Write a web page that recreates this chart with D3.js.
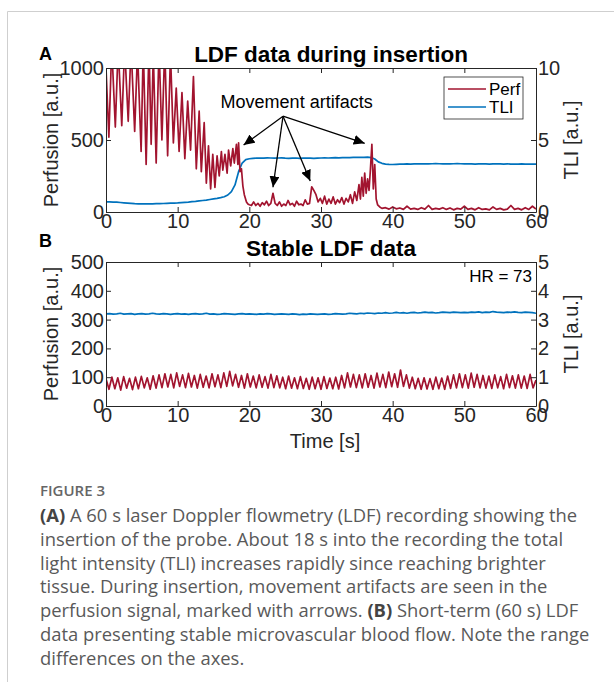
<!DOCTYPE html>
<html>
<head>
<meta charset="utf-8">
<script src="https://cdn.jsdelivr.net/npm/d3@7"></script>
<style>
	body { margin: 0; background: #fff; }
	#chart text { font-family: "Liberation Sans", Arial, Helvetica, sans-serif; }
	#chart text.cap { font-family: "Open Sans", "Noto Sans", sans-serif; }
</style>
</head>
<body>
<div id="chart"></div>
<script>
// ---- data ----
const timeTicks = [0, 10, 20, 30, 40, 50, 60];
const perfTicksA = [0, 500, 1000];
const tliTicksA = [0, 5, 10];
const perfTicksB = [0, 100, 200, 300, 400, 500];
const tliTicksB = [0, 1, 2, 3, 4, 5];
const seriesNames = ['Perf', 'TLI'];

// panel A perfusion, [time s, perfusion a.u.]
const perfA = [
	[0.0,1000],[0.4,520],[0.8,1150],[1.3,590],[1.7,1150],[2.2,600],[2.6,1150],[3.1,630],[3.5,1150],[4.0,560],
	[4.4,1120],[4.9,420],[5.2,1150],[5.6,330],[6.0,1150],[6.3,470],[6.6,1100],[7.0,340],[7.4,1150],[7.8,500],
	[8.2,1150],[8.6,390],[9.0,1100],[9.4,480],[9.8,860],[10.2,420],[10.6,830],[11.0,370],[11.4,770],[11.8,430],
	[12.2,940],[12.6,300],[13.0,700],[13.3,280],[13.7,620],[14.0,200],[14.3,460],[14.6,160],[14.9,400],[15.2,170],
	[15.5,390],[15.8,250],[16.1,420],[16.3,290],[16.6,400],[16.9,270],[17.1,430],[17.4,320],[17.7,440],[17.9,340],
	[18.2,470],[18.4,330],[18.5,480],[18.7,280],[18.9,300],[19.1,180],[19.3,120],[19.6,70],[19.8,55],
	[20.0,50],[20.3,45],[20.6,70],[20.9,45],[21.2,60],[21.5,40],[21.8,65],[22.1,50],[22.4,75],[22.7,45],
	[23.0,60],[23.3,130],[23.6,60],[23.9,45],[24.2,70],[24.5,40],[24.8,55],[25.1,45],[25.4,80],[25.7,50],
	[26.0,60],[26.3,40],[26.6,75],[26.9,50],[27.2,55],[27.5,45],[27.8,85],[28.1,55],[28.4,60],[28.7,175],
	[29.0,150],[29.3,120],[29.6,70],[29.9,95],[30.2,60],[30.5,110],[30.8,55],[31.1,90],[31.4,60],[31.7,105],
	[32.0,55],[32.3,85],[32.6,65],[32.9,100],[33.2,55],[33.5,95],[33.8,70],[34.1,120],[34.4,60],[34.7,140],
	[35.0,80],[35.3,190],[35.5,90],[35.7,240],[35.9,110],[36.1,270],[36.3,130],[36.5,230],[36.7,150],[36.9,300],
	[37.1,470],[37.3,160],[37.5,330],[37.7,90],[37.9,50],[38.2,35],[38.5,25],
	[39.0,30],[39.5,20],[40.0,35],[40.5,22],[41.0,28],[41.5,18],[42.0,40],[42.5,20],[43.0,25],[43.5,18],
	[44.0,30],[44.5,20],[45.0,45],[45.5,18],[46.0,25],[46.5,20],[47.0,30],[47.5,18],[48.0,28],[48.5,15],
	[49.0,25],[49.5,20],[50.0,40],[50.5,18],[51.0,25],[51.5,15],[52.0,30],[52.5,18],[53.0,22],[53.5,15],
	[54.0,35],[54.5,18],[55.0,25],[55.5,15],[56.0,20],[56.5,45],[57.0,18],[57.5,25],[58.0,15],[58.5,30],
	[59.0,18],[59.5,40],[60.0,20]
];

// panel A total light intensity, one value every 0.5 s
const tliAStep = 0.5;
const tliA = [
	0.70,0.70,0.69,0.68,0.66,0.64,0.62,0.60,0.58,0.57,0.56,0.56,0.57,0.57,0.58,0.58,0.59,0.60,0.61,0.62,
	0.63,0.65,0.67,0.69,0.72,0.74,0.77,0.80,0.83,0.87,0.91,0.95,1.00,1.06,1.18,1.42,1.88,2.80,3.40,3.64,
	3.70,3.73,3.74,3.75,3.74,3.76,3.75,3.74,3.75,3.76,3.74,3.73,3.74,3.75,3.73,3.74,3.75,3.74,3.73,3.74,
	3.75,3.76,3.75,3.76,3.77,3.76,3.78,3.77,3.78,3.79,3.80,3.79,3.80,3.81,3.78,3.68,3.48,3.38,3.33,3.31,
	3.30,3.31,3.32,3.33,3.34,3.33,3.34,3.35,3.34,3.35,3.34,3.35,3.36,3.35,3.34,3.35,3.34,3.35,3.36,3.35,
	3.34,3.35,3.34,3.33,3.34,3.35,3.34,3.33,3.34,3.35,3.34,3.33,3.34,3.33,3.32,3.33,3.34,3.33,3.32,3.33,
	3.33
];

// panel B perfusion, peak / trough every half beat (HR = 73)
const perfBStep = 60 / 146;
const perfB = [
	95,58, 100,60, 98,55, 102,62, 96,57, 100,60, 103,63, 98,58, 105,62, 108,64,
	112,66, 110,63, 115,68, 108,64, 113,66, 106,62, 110,65, 104,63, 112,67, 108,64,
	115,68, 120,70, 110,65, 106,62, 112,66, 104,63, 108,65, 102,62, 110,64, 105,63,
	100,60, 104,62, 98,60, 102,61, 96,58, 100,60, 98,58, 102,61, 97,60, 100,59,
	106,63, 115,66, 110,64, 108,63, 112,65, 106,62, 114,66, 110,64, 118,67, 112,65,
	125,68, 108,62, 100,60, 96,58, 98,59, 95,58, 100,60, 97,58, 104,61, 108,63,
	112,64, 108,62, 114,65, 110,63, 106,62, 104,61, 108,63, 102,60, 110,64, 105,62,
	108,62, 104,61, 110,63, 90
];

// panel B total light intensity, one value every 0.5 s
const tliBStep = 0.5;
const tliB = [
	3.20,3.21,3.19,3.20,3.22,3.19,3.20,3.21,3.18,3.20,3.21,3.19,3.20,3.22,3.20,3.19,3.21,3.20,3.18,3.20,
	3.21,3.19,3.20,3.18,3.20,3.21,3.19,3.20,3.22,3.19,3.20,3.18,3.19,3.21,3.20,3.19,3.18,3.20,3.21,3.19,
	3.20,3.19,3.18,3.20,3.19,3.21,3.20,3.18,3.19,3.20,3.19,3.18,3.20,3.19,3.17,3.19,3.18,3.20,3.19,3.18,
	3.19,3.20,3.18,3.19,3.21,3.20,3.19,3.20,3.22,3.21,3.20,3.22,3.21,3.23,3.22,3.21,3.23,3.22,3.24,3.22,
	3.23,3.25,3.23,3.24,3.22,3.24,3.25,3.23,3.24,3.26,3.24,3.25,3.23,3.24,3.26,3.25,3.24,3.26,3.25,3.24,
	3.25,3.24,3.26,3.25,3.27,3.24,3.26,3.25,3.28,3.26,3.25,3.24,3.26,3.25,3.27,3.25,3.24,3.26,3.25,3.24,
	3.22
];

// arrows in panel A: start and tips, [time s, perfusion a.u.]
const arrowStart = [24.7, 665];
const arrowTips = [[19.2, 465], [23.3, 172], [28.5, 215], [36.1, 477]];
const arrowLabelPos = [26.6, 720];
const heartRate = 73;

const captionLines = [
	[['(A)', true], [' A 60 s laser Doppler flowmetry (LDF) recording showing the', false]],
	[['insertion of the probe. About 18 s into the recording the total', false]],
	[['light intensity (TLI) increases rapidly since reaching brighter', false]],
	[['tissue. During insertion, movement artifacts are seen in the', false]],
	[['perfusion signal, marked with arrows. ', false], ['(B)', true], [' Short-term (60 s) LDF', false]],
	[['data presenting stable microvascular blood flow. Note the range', false]],
	[['differences on the axes.', false]]
];

// ---- drawing ----
const options = {
	w: 614,
	h: 682,
	left: 106,
	right: 536,
	titleX: 331,
	xLabelX: 325,
	tickLen: 5,
	axisColor: '#262626',
	perfColor: '#A2142F',
	tliColor: '#0072BD',
	tickFont: 20,
	labelFont: 20,
	titleFont: 22.5,
	lineW: 1.7
};

const svg = d3.select('#chart')
	.append('svg')
	.attr('width', options.w)
	.attr('height', options.h)
	.attr('viewBox', `0 0 ${options.w} ${options.h}`);

// frame
svg.append('path')
	.attr('d', `M7.5,${options.h} V11.5 H${options.w}`)
	.attr('fill', 'none')
	.attr('stroke', '#cfcfcf')
	.attr('stroke-width', 1);

const defs = svg.append('defs');
defs.append('marker')
	.attr('id', 'arrowhead')
	.attr('markerUnits', 'userSpaceOnUse')
	.attr('markerWidth', 12)
	.attr('markerHeight', 10)
	.attr('refX', 11)
	.attr('refY', 5)
	.attr('orient', 'auto')
	.append('path')
	.attr('d', 'M0,0 L11,5 L0,10 Z')
	.attr('fill', '#000');

function drawPanel(cfg) {
	const x = d3.scaleLinear().domain([0, 60]).range([options.left, options.right]);
	const yL = d3.scaleLinear().domain(cfg.perfDomain).range([cfg.bottom, cfg.top]);
	const yR = d3.scaleLinear().domain(cfg.tliDomain).range([cfg.bottom, cfg.top]);
	const g = svg.append('g');

	defs.append('clipPath')
		.attr('id', 'clip' + cfg.id)
		.append('rect')
		.attr('x', options.left)
		.attr('y', cfg.top)
		.attr('width', options.right - options.left)
		.attr('height', cfg.bottom - cfg.top);

	const styleAxis = sel => {
		sel.attr('font-size', options.tickFont)
			.attr('font-family', null);
		sel.select('.domain').attr('stroke', options.axisColor).attr('stroke-width', 1);
		sel.selectAll('.tick line').attr('stroke', options.axisColor).attr('stroke-width', 1);
		sel.selectAll('.tick text').attr('fill', options.axisColor);
	};

	// series: TLI on right axis, Perf on left axis
	const lines = g.append('g').attr('clip-path', `url(#clip${cfg.id})`);
	lines.append('path')
		.datum(cfg.tli)
		.attr('fill', 'none')
		.attr('stroke', options.tliColor)
		.attr('stroke-width', options.lineW)
		.attr('stroke-linejoin', 'round')
		.attr('d', d3.line().x((d, i) => x(i * cfg.tliStep)).y(d => yR(d)));
	lines.append('path')
		.datum(cfg.perf)
		.attr('fill', 'none')
		.attr('stroke', options.perfColor)
		.attr('stroke-width', options.lineW)
		.attr('stroke-linejoin', 'round')
		.attr('d', d3.line().x((d, i) => x(cfg.perfT(d, i))).y((d, i) => yL(cfg.perfV(d, i))));

	g.append('g')
		.attr('transform', `translate(0,${cfg.bottom})`)
		.call(d3.axisBottom(x).tickValues(timeTicks).tickSizeInner(-options.tickLen).tickSizeOuter(0).tickPadding(2))
		.call(styleAxis);
	g.append('g')
		.attr('transform', `translate(0,${cfg.top})`)
		.call(d3.axisTop(x).tickValues(timeTicks).tickSizeInner(-options.tickLen).tickSizeOuter(0).tickFormat(''))
		.call(styleAxis);
	g.append('g')
		.attr('transform', `translate(${options.left},0)`)
		.call(d3.axisLeft(yL).tickValues(cfg.perfTicks).tickSizeInner(-options.tickLen).tickSizeOuter(0).tickPadding(2).tickFormat(d3.format('d')))
		.call(styleAxis);
	g.append('g')
		.attr('transform', `translate(${options.right},0)`)
		.call(d3.axisRight(yR).tickValues(cfg.tliTicks).tickSizeInner(-options.tickLen).tickSizeOuter(0).tickPadding(2).tickFormat(d3.format('d')))
		.call(styleAxis);

	// labels
	g.append('text')
		.attr('x', 39)
		.attr('y', cfg.labelY)
		.attr('font-size', 18)
		.attr('font-weight', 'bold')
		.text(cfg.id);
	g.append('text')
		.attr('x', options.titleX)
		.attr('y', cfg.top - 6)
		.attr('text-anchor', 'middle')
		.attr('font-size', options.titleFont)
		.attr('font-weight', 'bold')
		.text(cfg.title);
	g.append('text')
		.attr('transform', `translate(58,${(cfg.top + cfg.bottom) / 2}) rotate(-90)`)
		.attr('text-anchor', 'middle')
		.attr('font-size', options.labelFont)
		.attr('fill', options.axisColor)
		.text('Perfusion [a.u.]');
	g.append('text')
		.attr('transform', `translate(578,${(cfg.top + cfg.bottom) / 2}) rotate(-90)`)
		.attr('text-anchor', 'middle')
		.attr('font-size', options.labelFont)
		.attr('fill', options.axisColor)
		.text('TLI [a.u.]');

	return { g, x, yL, yR };
}

// panel A
const pA = drawPanel({
	id: 'A', title: 'LDF data during insertion', top: 68, bottom: 212, labelY: 60,
	perfDomain: [0, 1000], tliDomain: [0, 10], perfTicks: perfTicksA, tliTicks: tliTicksA,
	perf: perfA, perfT: d => d[0], perfV: d => d[1], tli: tliA, tliStep: tliAStep
});

// panel B
const pB = drawPanel({
	id: 'B', title: 'Stable LDF data', top: 262, bottom: 406, labelY: 247,
	perfDomain: [0, 500], tliDomain: [0, 5], perfTicks: perfTicksB, tliTicks: tliTicksB,
	perf: perfB, perfT: (d, i) => i * perfBStep, perfV: d => d, tli: tliB, tliStep: tliBStep
});

// legend in A
const legend = pA.g.append('g').attr('transform', 'translate(444,77)');
legend.append('rect')
	.attr('width', 79)
	.attr('height', 42)
	.attr('fill', '#fff')
	.attr('stroke', options.axisColor)
	.attr('stroke-width', 0.8);
seriesNames.forEach((name, i) => {
	const yy = 12 + i * 18;
	legend.append('line')
		.attr('x1', 4).attr('x2', 42)
		.attr('y1', yy).attr('y2', yy)
		.attr('stroke', i === 0 ? options.perfColor : options.tliColor)
		.attr('stroke-width', options.lineW);
	legend.append('text')
		.attr('x', 45)
		.attr('y', yy + 6)
		.attr('font-size', 17)
		.attr('fill', '#000')
		.text(name);
});

// movement artifact arrows
pA.g.append('text')
	.attr('x', pA.x(arrowLabelPos[0]))
	.attr('y', pA.yL(arrowLabelPos[1]))
	.attr('text-anchor', 'middle')
	.attr('font-size', 18)
	.attr('fill', '#000')
	.text('Movement artifacts');
pA.g.selectAll('.arrow')
	.data(arrowTips)
	.enter()
	.append('line')
	.attr('class', 'arrow')
	.attr('x1', pA.x(arrowStart[0]))
	.attr('y1', pA.yL(arrowStart[1]))
	.attr('x2', d => pA.x(d[0]))
	.attr('y2', d => pA.yL(d[1]))
	.attr('stroke', '#000')
	.attr('stroke-width', 1.3)
	.attr('marker-end', 'url(#arrowhead)');

// HR label in B, time axis title
pB.g.append('text')
	.attr('x', options.right - 4)
	.attr('y', 282)
	.attr('text-anchor', 'end')
	.attr('font-size', 17)
	.attr('fill', '#000')
	.text('HR = ' + heartRate);
pB.g.append('text')
	.attr('x', options.xLabelX)
	.attr('y', 448)
	.attr('text-anchor', 'middle')
	.attr('font-size', options.labelFont)
	.attr('fill', options.axisColor)
	.text('Time [s]');

// caption
svg.append('text')
	.attr('class', 'cap')
	.attr('x', 40)
	.attr('y', 496)
	.attr('font-size', 15)
	.attr('font-weight', 600)
	.attr('fill', '#666')
	.text('FIGURE 3');
const cap = svg.append('text')
	.attr('class', 'cap')
	.attr('font-size', 18.4)
	.attr('fill', '#595959');
captionLines.forEach((line, i) => {
	line.forEach((part, j) => {
		const ts = cap.append('tspan')
			.attr('font-weight', part[1] ? 700 : 400)
			.attr('fill', part[1] ? '#444' : null)
			.text(part[0]);
		if (j === 0) ts.attr('x', 40).attr('y', 522 + i * 23.8);
	});
});
</script>
</body>
</html>
